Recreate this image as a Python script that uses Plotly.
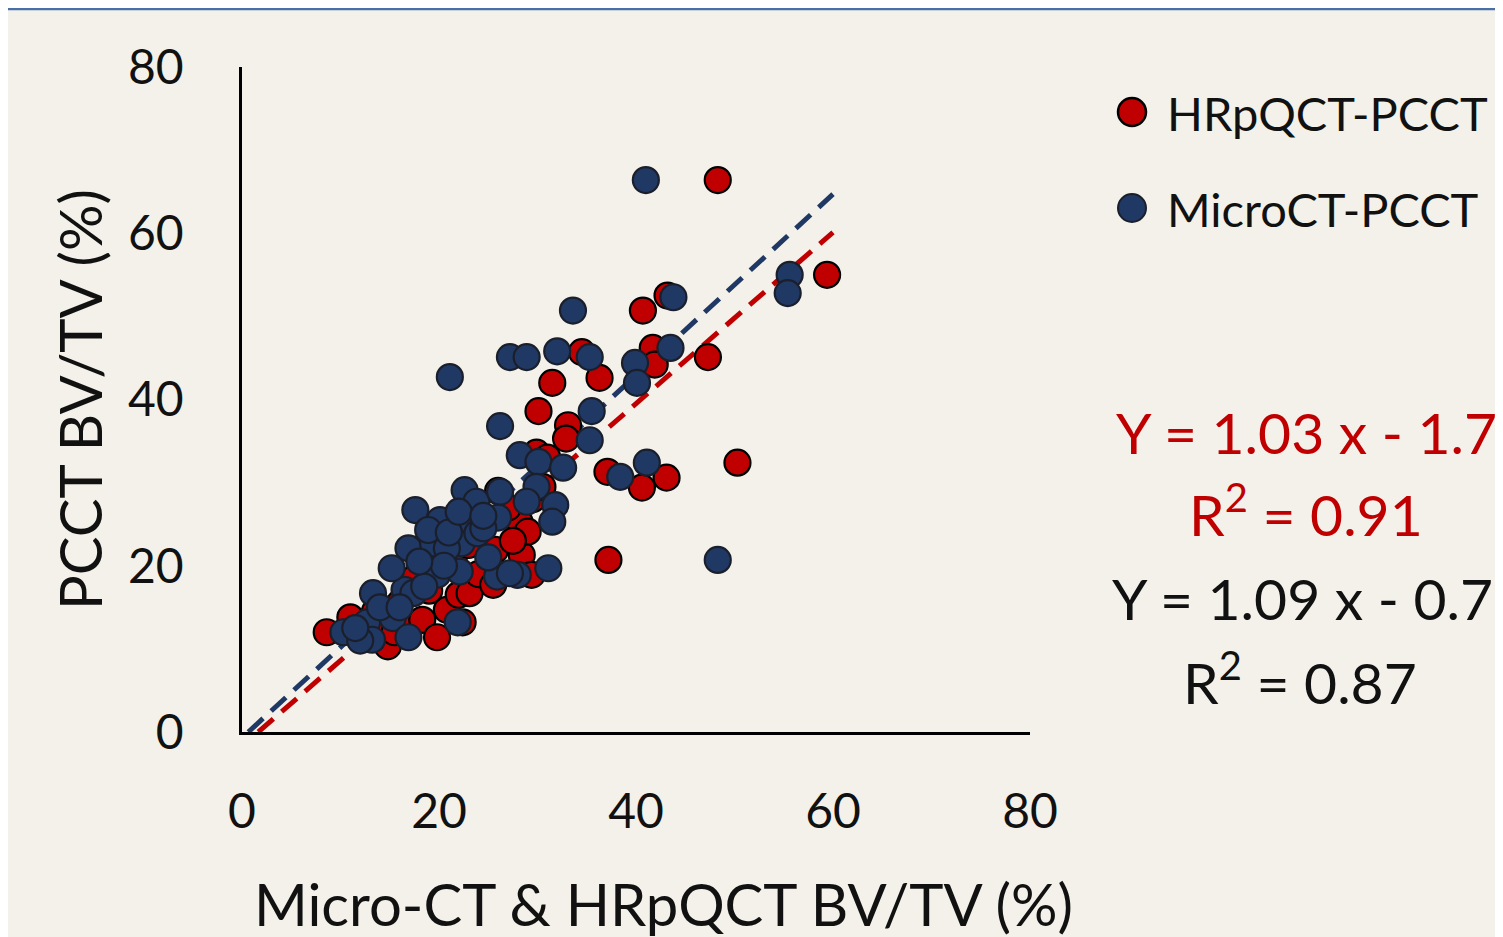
import plotly.graph_objects as go

# ---- data ----
hr_x = [48.3, 59.4, 40.7, 43.2, 47.3, 41.7, 41.9, 34.5, 36.3, 31.5, 30.1, 33.1, 32.9, 29.9,
        37.1, 40.6, 43.1, 50.3, 37.2,
        8.6, 11.0, 12.5, 14.8, 15.5, 17.0, 18.3, 19.8, 20.8, 22.4, 22.0, 23.1, 19.0, 17.5,
        20.0, 21.5, 23.0, 24.0, 25.5, 25.7, 28.4, 29.4, 28.2, 29.0, 27.0, 26.0, 29.5, 30.5,
        24.5, 22.5, 16.0, 13.5, 18.0, 27.5, 31.0]
hr_y = [66.4, 55.0, 50.7, 52.5, 45.1, 46.2, 44.2, 45.7, 42.6, 42.0, 38.6, 36.9, 35.3, 33.6,
        31.3, 29.4, 30.6, 32.4, 20.7,
        12.0, 13.8, 12.5, 10.3, 12.0, 13.0, 13.5, 11.4, 14.7, 13.2, 16.5, 16.7, 17.0, 18.5,
        20.0, 21.0, 22.5, 19.0, 17.7, 21.9, 21.3, 18.9, 25.2, 24.1, 27.0, 29.0, 28.0, 29.5,
        25.5, 24.0, 15.5, 14.5, 22.0, 23.0, 33.0]

mc_x = [41.0, 33.6, 43.8, 55.6, 55.4, 27.2, 28.9, 32.0, 35.3, 43.5, 39.9, 40.1, 21.1, 26.2,
        35.5, 35.3, 28.2, 30.1, 32.6, 41.1, 38.4, 48.3,
        17.6, 22.6, 23.8, 26.2, 26.0, 29.9, 28.9, 31.8, 31.5, 16.9, 19.4, 22.3, 20.8, 19.8,
        22.1, 25.9, 28.0, 31.1, 27.2, 16.5, 13.3, 15.2, 10.3, 12.7, 13.2, 15.3, 16.9, 21.9,
        23.4, 20.1, 18.9, 23.9, 17.4, 14.0, 16.0, 18.5, 20.5, 21.0, 24.5, 25.0, 12.0, 11.5,
        18.0, 22.0, 24.5]
mc_y = [66.4, 50.7, 52.3, 55.0, 52.8, 45.1, 45.1, 45.8, 45.1, 46.2, 44.4, 42.0, 42.7, 36.8,
        38.6, 35.1, 33.3, 32.5, 31.8, 32.4, 30.7, 20.7,
        26.7, 29.1, 27.7, 28.9, 25.8, 29.5, 27.7, 27.3, 25.3, 22.1, 22.7, 22.7, 22.1, 18.9,
        19.3, 18.7, 18.9, 19.7, 19.1, 17.1, 16.7, 19.7, 12.0, 13.2, 11.1, 13.7, 11.4, 13.2,
        25.2, 25.5, 24.3, 23.9, 16.7, 15.0, 15.0, 17.5, 20.0, 24.0, 24.5, 21.0, 11.0, 12.5,
        20.5, 26.5, 26.0]

# trend line coefficients (slope, intercept) and fit end
hr_fit = (1.03, -1.7)
mc_fit = (1.09, -0.7)
fit_end = 60

tick_vals = [0, 20, 40, 60, 80]

RED = "#C00000"
BLUE = "#203864"
BG = "#F3F1E9"
FONT = "Lato"
TXT = "#111111"

def fit_line(slope, intercept):
    x0 = -intercept / slope
    return [x0, fit_end], [slope * x0 + intercept, slope * fit_end + intercept]

fig = go.Figure()

lx, ly = fit_line(*hr_fit)
fig.add_trace(go.Scatter(x=lx, y=ly, mode="lines", line=dict(color=RED, width=5, dash="20px,11px"),
                         showlegend=False, hoverinfo="skip"))
lx, ly = fit_line(*mc_fit)
fig.add_trace(go.Scatter(x=lx, y=ly, mode="lines", line=dict(color=BLUE, width=5, dash="20px,11px"),
                         showlegend=False, hoverinfo="skip"))

fig.add_trace(go.Scatter(x=hr_x, y=hr_y, mode="markers", name="HRpQCT-PCCT",
                         marker=dict(color=RED, size=26, line=dict(color="black", width=2.2)),
                         showlegend=False))
fig.add_trace(go.Scatter(x=mc_x, y=mc_y, mode="markers", name="MicroCT-PCCT",
                         marker=dict(color=BLUE, size=26, line=dict(color="#1a1f2b", width=2.2)),
                         showlegend=False))

# the page adds an 8px body margin; work in reference pixel coords and shift
OFF = 8
W, H = 1503 - OFF, 937 - OFF
L, R, T, B = 242 - OFF, 1030 - OFF, 67 - OFF, 732 - OFF
pw, ph = R - L, B - T

def px(xp):
    return (xp - OFF - L) / pw

def py(yp):
    return (B - (yp - OFF)) / ph

axis_common = dict(range=[0, 80], tickvals=tick_vals, showgrid=False, zeroline=False,
                   showline=True, linecolor="black", linewidth=2.5, ticks="",
                   tickfont=dict(family=FONT, size=48, color=TXT))
fig.update_xaxes(**axis_common, ticklabelstandoff=36)
fig.update_yaxes(**axis_common, ticklabelstandoff=46)

annotations = [
    dict(text="Micro-CT & HRpQCT BV/TV (%)", x=px(663), y=py(903), font=dict(size=58, color=TXT)),
    dict(text="PCCT BV/TV (%)", x=px(80), y=py(400), textangle=-90, font=dict(size=58, color=TXT)),
    dict(text="HRpQCT-PCCT", x=px(1165), y=py(113), xanchor="left", font=dict(size=47, color=TXT)),
    dict(text="MicroCT-PCCT", x=px(1165), y=py(209), xanchor="left", font=dict(size=47, color=TXT)),
    dict(text="Y = 1.03 x - 1.7", x=px(1306), y=py(432), font=dict(size=57, color=RED)),
    dict(text="R<sup>2</sup> = 0.91", x=px(1306), y=py(510), font=dict(size=57, color=RED)),
    dict(text="Y = 1.09 x - 0.7", x=px(1302), y=py(598), font=dict(size=57, color=TXT)),
    dict(text="R<sup>2</sup> = 0.87", x=px(1300), y=py(678), font=dict(size=57, color=TXT)),
]
for a in annotations:
    a.setdefault("xanchor", "center")
    a.update(xref="paper", yref="paper", yanchor="middle", showarrow=False)
    a["font"]["family"] = FONT

rx, ry = 14 / pw, 14 / ph
shapes = [
    dict(type="circle", xref="paper", yref="paper",
         x0=px(1132) - rx, x1=px(1132) + rx, y0=py(112) - ry, y1=py(112) + ry,
         fillcolor=RED, line=dict(color="black", width=2.5)),
    dict(type="circle", xref="paper", yref="paper",
         x0=px(1132) - rx, x1=px(1132) + rx, y0=py(208) - ry, y1=py(208) + ry,
         fillcolor=BLUE, line=dict(color="#1a1f2b", width=2)),
    dict(type="line", xref="paper", yref="paper", x0=-L / pw, x1=(W - L) / pw,
         y0=(B - 1) / ph, y1=(B - 1) / ph, line=dict(color="#4A6FA8", width=2.5)),
]

fig.update_layout(
    width=W, height=H,
    margin=dict(l=L, r=W - R, t=T, b=H - B),
    paper_bgcolor=BG, plot_bgcolor=BG,
    annotations=annotations, shapes=shapes,
    showlegend=False,
    font=dict(family=FONT),
)

fig.write_html("out.html")
